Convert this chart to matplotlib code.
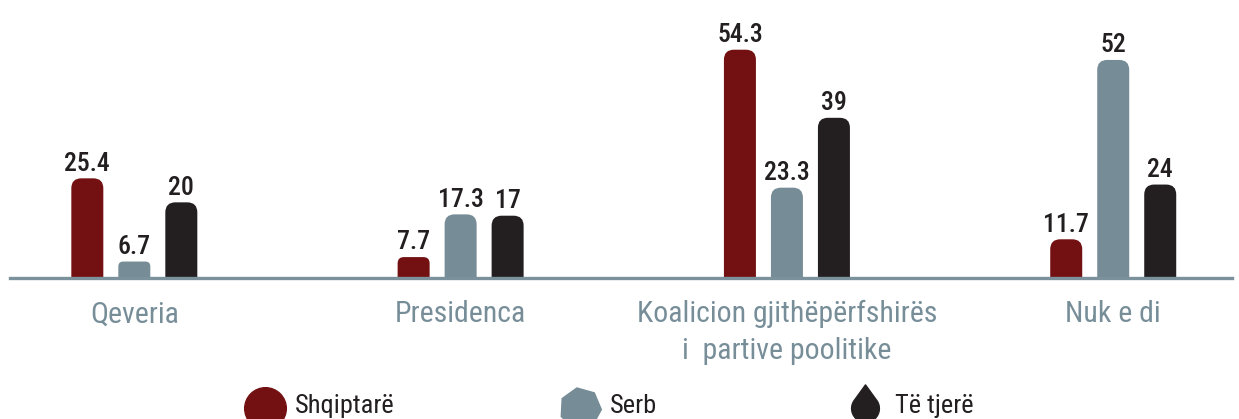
import numpy as np
import matplotlib.pyplot as plt
from matplotlib.patches import FancyBboxPatch
from matplotlib.lines import Line2D
from matplotlib.path import Path

plt.rcParams['font.family'] = ['Roboto Condensed', 'DejaVu Sans']

# data
categories = ['Qeveria', 'Presidenca', 'Koalicion gjithëpërfshirës\ni  partive poolitike', 'Nuk e di']
series = ['Shqiptarë', 'Serb', 'Të tjerë']
shqiptare = [25.4, 7.7, 54.3, 11.7]
serb = [6.7, 17.3, 23.3, 52]
te_tjere = [20, 17, 39, 24]

colors = ['#731112', '#768c96', '#231f20']
label_col = '#778e99'
axis_col = '#7b929c'

W, H = 1239, 419
fig = plt.figure(figsize=(W / 100, H / 100), dpi=100)
ax = fig.add_axes([10 / W, 141 / H, 1222 / W, 278 / H])
ax.set_xlim(-0.381, 3.364)
ax.set_ylim(3, 3 + 278 / 4.45)
for s in ax.spines.values():
    s.set_visible(False)
ax.axhline(3, color=axis_col, lw=2.4, zorder=5, clip_on=False)

x = np.arange(len(categories))
bw = 32 / 326.3
off = 47 / 326.3

# pixels per data unit
fig.canvas.draw()
p0 = ax.transData.transform((0, 0))
p1 = ax.transData.transform((1, 1))
px_x = p1[0] - p0[0]
px_y = p1[1] - p0[1]
aspect = px_x / px_y

for i, (vals, c) in enumerate(zip([shqiptare, serb, te_tjere], colors)):
    bars = ax.bar(x + (i - 1) * off, vals, bw, color=c)
    for b, v in zip(bars, vals):
        b.set_visible(False)
        vis_px = (v - 3) * px_y
        r_px = min(10, vis_px * 0.3)
        patch = FancyBboxPatch((b.get_x(), b.get_y()), b.get_width(), b.get_height(),
                               boxstyle=f"round,pad=0,rounding_size={r_px / px_x}",
                               mutation_aspect=aspect, fc=c, ec='none', zorder=3)
        ax.add_patch(patch)
        ax.annotate(f'{v:g}', (b.get_x() + b.get_width() / 2, v), xytext=(0, 2),
                    textcoords='offset points', ha='center', va='bottom',
                    fontsize=18.5, fontweight='medium', color='#231f20')

ax.set_yticks([])
ax.set_xticks(x)
ax.set_xticklabels(categories, fontsize=21.5, color=label_col, linespacing=1.4)
ax.tick_params(axis='x', length=0, pad=16)

# legend markers
t = np.radians(np.linspace(40, -220, 40))
verts = [(0, 1.7)] + list(zip(np.cos(t), np.sin(t))) + [(0, 1.7)]
drop = Path(verts, [Path.MOVETO] + [Path.LINETO] * (len(verts) - 2) + [Path.CLOSEPOLY])
markers = ['o', (7, 0, 10), drop]
leg_x = [265, 580, 865]
for lx, m, c, name in zip(leg_x, markers, colors, series):
    fig.add_artist(Line2D([lx / W], [1 - 408 / H], marker=m, ms=30 if m is not drop else 34,
                          color=c, mec=c, ls='none', transform=fig.transFigure))
    fig.text((lx + 30) / W, 1 - 406 / H, name, fontsize=19, color='#231f20', va='center')

fig.savefig('out.png', dpi=100)
